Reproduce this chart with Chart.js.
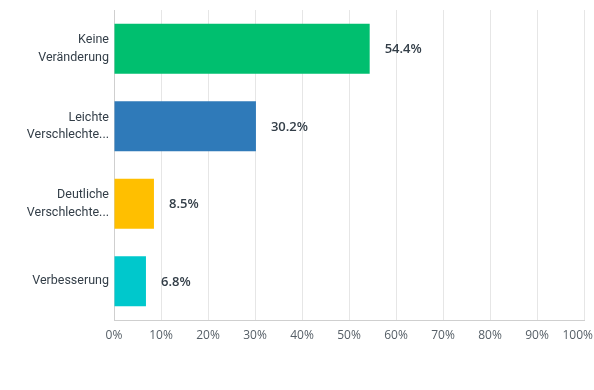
<!DOCTYPE html>
<html>
<head>
<meta charset="utf-8">
<script src="https://cdn.jsdelivr.net/npm/chart.js@4"></script>
<style>
  html, body { margin: 0; padding: 0; background: #fff; }
  #chart { display: block; }
</style>
</head>
<body>
<canvas id="chart" width="594" height="390"></canvas>
<script>
// data
const categories = [["Keine", "Veränderung"], ["Leichte", "Verschlechte..."], ["Deutliche", "Verschlechte..."], "Verbesserung"];
const percentValues = [54.4, 30.2, 8.5, 6.8];
const barColors = ["#00BF6F", "#2F7AB9", "#FFBF00", "#00C8CC"];
const xTicks = [0, 10, 20, 30, 40, 50, 60, 70, 80, 90, 100];

const FONT = "Roboto, 'Open Sans', sans-serif";
const TICK_FONT = "'Open Sans', Roboto, sans-serif";

// prints the value to the right of each bar and the x tick labels
const valueLabels = {
    id: "valueLabels",
    afterDraw(chart) {
        const ctx = chart.ctx;
        const meta = chart.getDatasetMeta(0);
        ctx.save();
        ctx.font = "600 13px " + TICK_FONT;
        ctx.fillStyle = "#333e48";
        ctx.textAlign = "left";
        ctx.textBaseline = "middle";
        meta.data.forEach((bar, i) => {
            ctx.fillText(percentValues[i].toFixed(1) + "%", bar.x + 15, bar.y + 1);
        });

        // x tick labels, the last one is kept inside the canvas
        const xs = chart.scales.x;
        ctx.font = "12px " + TICK_FONT;
        ctx.fillStyle = "#555e66";
        ctx.textAlign = "center";
        xTicks.forEach(v => {
            const label = v + "%";
            const w = ctx.measureText(label).width;
            let x = xs.getPixelForValue(v);
            if (x + w / 2 > chart.width - 1) x = chart.width - 1 - w / 2;
            ctx.fillText(label, x, xs.top + 16);
        });
        ctx.restore();
    }
};

var myChart = new Chart(document.getElementById("chart"), {
    type: "bar",
    data: {
        labels: categories,
        datasets: [{
            data: percentValues,
            backgroundColor: barColors,
            borderWidth: 0,
            barPercentage: 0.645,
            categoryPercentage: 1.0,
        }],
    },
    options: {
        indexAxis: "y",
        responsive: false,
        animation: false,
        layout: { padding: { top: 10, right: 10, left: 0, bottom: 0 } },
        plugins: {
            legend: { display: false },
            tooltip: { enabled: false },
        },
        scales: {
            x: {
                min: 0,
                max: 100,
                afterBuildTicks: (scale) => {
                    scale.ticks = xTicks.map(v => ({ value: v }));
                },
                afterFit: (scale) => {
                    scale.height = 70;
                    scale.paddingLeft = 0;
                    scale.paddingRight = 0;
                },
                grid: { color: "#e6e6e6", drawTicks: false },
                border: { color: "#cfcfcf" },
                ticks: { display: false },
            },
            y: {
                afterFit: (scale) => {
                    scale.width = 114;
                    scale.paddingTop = 0;
                    scale.paddingBottom = 0;
                },
                grid: { display: false, drawTicks: false },
                border: { color: "#cfcfcf" },
                ticks: {
                    padding: 5,
                    color: "#333e48",
                    font: { family: FONT, size: 12.5, lineHeight: 1.4 },
                },
            },
        },
    },
    plugins: [valueLabels],
});
</script>
</body>
</html>
